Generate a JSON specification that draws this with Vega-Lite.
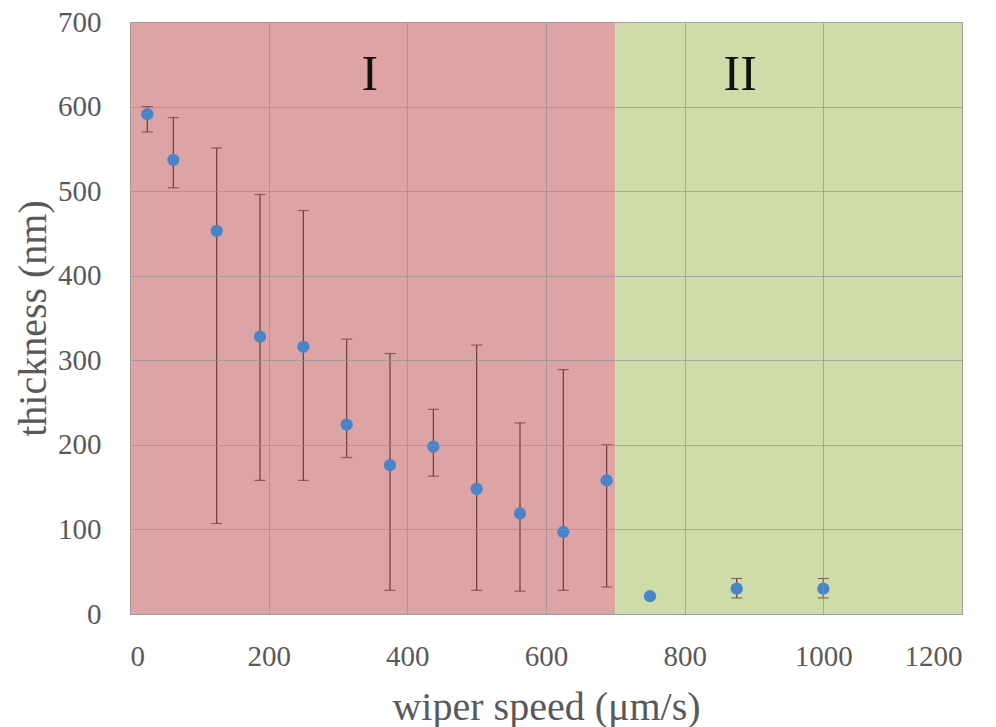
{
  "$schema": "https://vega.github.io/schema/vega-lite/v6.json",
  "width": 832,
  "height": 592,
  "autosize": {"type": "none"},
  "padding": {"left": 130, "top": 22, "right": 34, "bottom": 113},
  "background": "white",
  "config": {
    "view": {"stroke": "#b0b0b0", "strokeWidth": 1},
    "font": "Liberation Serif"
  },
  "datasets": {
    "regions": [
      {"x0": 0, "x1": 700, "region": "I"},
      {"x0": 700, "x1": 1200, "region": "II"}
    ],
    "points": [
      {"speed": 25, "thickness": 591, "lo": 570, "hi": 600},
      {"speed": 62.5, "thickness": 537, "lo": 504, "hi": 587},
      {"speed": 125, "thickness": 453, "lo": 107, "hi": 551},
      {"speed": 187.5, "thickness": 328, "lo": 158, "hi": 496},
      {"speed": 250, "thickness": 316, "lo": 158, "hi": 477},
      {"speed": 312.5, "thickness": 224, "lo": 185, "hi": 325},
      {"speed": 375, "thickness": 176, "lo": 28, "hi": 308},
      {"speed": 437.5, "thickness": 198, "lo": 163, "hi": 242},
      {"speed": 500, "thickness": 148, "lo": 28, "hi": 318},
      {"speed": 562.5, "thickness": 119, "lo": 27, "hi": 226},
      {"speed": 625, "thickness": 97, "lo": 28, "hi": 289},
      {"speed": 687.5, "thickness": 158, "lo": 32, "hi": 200},
      {"speed": 750, "thickness": 21, "lo": null, "hi": null},
      {"speed": 875, "thickness": 30, "lo": 19, "hi": 42},
      {"speed": 1000, "thickness": 30, "lo": 19, "hi": 42}
    ],
    "labels": [
      {"x": 346, "y": 637, "text": "I"},
      {"x": 880, "y": 637, "text": "II"}
    ]
  },
  "layer": [
    {
      "data": {"name": "regions"},
      "mark": {"type": "rect", "opacity": 1},
      "encoding": {
        "x": {
          "field": "x0", "type": "quantitative",
          "scale": {"domain": [0, 1200], "nice": false},
          "axis": {
            "values": [0, 200, 400, 600, 800, 1000, 1200],
            "format": "d",
            "grid": true, "gridColor": "#8f8f8f", "gridWidth": 0.8, "gridOpacity": 0.8,
            "zindex": 1,
            "domain": false, "ticks": false,
            "labelFont": "Liberation Serif", "labelFontSize": 29, "labelColor": "#595959",
            "labelPadding": 28,
            "title": "wiper speed (μm/s)",
            "titleFont": "Liberation Serif", "titleFontSize": 40, "titleFontWeight": "normal",
            "titleColor": "#595959", "titlePadding": 16
          }
        },
        "x2": {"field": "x1"},
        "y": {
          "datum": 0, "type": "quantitative",
          "scale": {"domain": [0, 700], "nice": false},
          "axis": {
            "values": [0, 100, 200, 300, 400, 500, 600, 700],
            "grid": true, "gridColor": "#8f8f8f", "gridWidth": 0.8, "gridOpacity": 0.8,
            "zindex": 1,
            "domain": false, "ticks": false,
            "labelFont": "Liberation Serif", "labelFontSize": 29, "labelColor": "#595959",
            "labelPadding": 29,
            "title": "thickness (nm)",
            "titleFont": "Liberation Serif", "titleFontSize": 40, "titleFontWeight": "normal",
            "titleColor": "#595959", "titlePadding": 4
          }
        },
        "y2": {"datum": 700},
        "color": {
          "field": "region", "type": "nominal",
          "scale": {"domain": ["I", "II"], "range": ["#dca4a4", "#cedca9"]},
          "legend": null
        }
      }
    },
    {
      "data": {"name": "points"},
      "transform": [{"filter": "datum.lo != null"}],
      "mark": {"type": "errorbar", "color": "#6e3b3b", "thickness": 1.2, "ticks": {"size": 11, "color": "#6e3b3b", "thickness": 1.2}},
      "encoding": {
        "x": {"field": "speed", "type": "quantitative"},
        "y": {"field": "lo", "type": "quantitative", "title": "thickness (nm)"},
        "y2": {"field": "hi"}
      }
    },
    {
      "data": {"name": "points"},
      "mark": {"type": "point", "filled": true, "shape": "circle", "size": 150, "color": "#4a84c6", "opacity": 1},
      "encoding": {
        "x": {"field": "speed", "type": "quantitative", "title": "wiper speed (μm/s)"},
        "y": {"field": "thickness", "type": "quantitative", "title": "thickness (nm)"}
      }
    },
    {
      "data": {"name": "labels"},
      "mark": {"type": "text", "font": "Liberation Serif", "fontSize": 50, "color": "#111111", "baseline": "middle", "align": "center"},
      "encoding": {
        "x": {"field": "x", "type": "quantitative", "title": "wiper speed (μm/s)"},
        "y": {"field": "y", "type": "quantitative", "title": "thickness (nm)"},
        "text": {"field": "text"}
      }
    }
  ]
}
